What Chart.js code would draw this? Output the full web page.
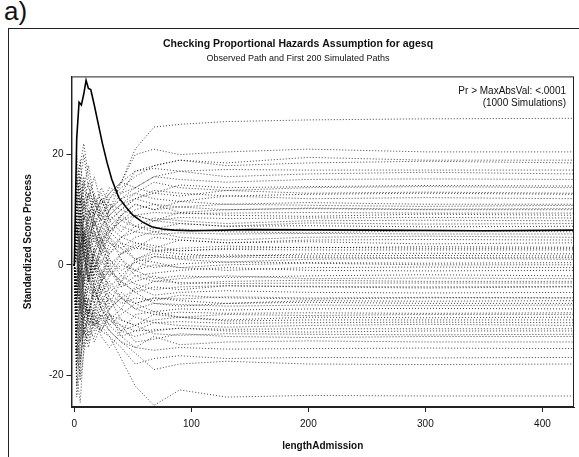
<!DOCTYPE html>
<html>
<head>
<meta charset="utf-8">
<script src="https://cdn.jsdelivr.net/npm/chart.js@4.4.1/dist/chart.umd.min.js"></script>
<style>
  html, body { margin: 0; padding: 0; background: #fff; }
  body { width: 579px; height: 457px; position: relative; overflow: hidden; font-family: "Liberation Sans", Arial, sans-serif; }
  #tag { position: absolute; left: 4px; top: -4px; font-size: 26px; color: #111; }
  #frame { position: absolute; left: 8px; top: 28px; width: 571px; height: 429px; border-top: 1px solid #222; border-left: 1px solid #222; }
  #wrap { position: absolute; left: 0; top: 0; width: 579px; height: 457px; }
</style>
</head>
<body>
<div id="tag">a)</div>
<div id="frame"></div>
<div id="wrap"><canvas id="hazardChart"></canvas></div>
<script>
// observed score process
const obsX = [0, 1, 2, 4, 6, 8, 10, 12, 14, 17, 20, 24, 28, 32, 38, 44, 50, 58, 66, 75, 85, 100, 150, 250, 350, 427];
const obsY = [0, 12, 23, 29.5, 29, 31, 33.5, 32, 31.8, 29, 26, 22, 18.5, 15.5, 12.2, 10.5, 9, 7.8, 6.9, 6.5, 6.3, 6.2, 6.4, 6.3, 6.2, 6.3];

// simulated paths, all sampled at the same lengthAdmission values
const simX = [0, 2, 5, 8, 12, 17, 23, 30, 40, 52, 68, 90, 130, 200, 300, 427];
const simPaths = [
  [0, 4, 8, 3, 6, 10, 8, 12, 15, 21, 25, 25.5, 26, 26.3, 26.5, 26.6],
  [0, -3, 2, 6, 4, 9, 12, 10, 15, 20, 21, 20, 20.5, 21, 20.5, 20.5],
  [0, 5, 12, 8, 10, 7, 11, 14, 13, 17, 18, 19, 18.5, 19.5, 19, 19],
  [0, 8, 15, 20, 14, 11, 9, 12, 14, 16, 18, 19, 18, 18.5, 18.8, 18.5],
  [0, 9, 3, 8, 12, 16, 11, 13, 15, 17, 17.5, 17, 17.3, 17.2, 17.2, 17.2],
  [0, 3, -2, 5, 9, 12, 10, 13, 15, 14, 16, 17, 16, 16.5, 16.8, 16.5],
  [0, -1, 6, 11, 15, 9, 6, 10, 13, 14, 16, 15.5, 15, 15.5, 15.6, 15.5],
  [0, 16, 11, 15, 9, 4, 7, 10, 12, 14, 13, 14.5, 14, 14.2, 14.4, 14.3],
  [0, 10, 18, 22, 16, 12, 8, 10, 12, 13, 15, 14, 13.5, 14, 14.2, 14],
  [0, -4, 3, 9, 7, 5, 9, 11, 10, 12, 13, 12.5, 13.5, 13, 13.2, 13],
  [0, 3, 9, 14, 18, 12, 7, 9, 11, 12, 13.5, 13, 12.5, 12.8, 13, 12.8],
  [0, 6, 10, 4, 8, 11, 13, 9, 11, 13, 12, 11.5, 12.5, 12, 12.2, 12],
  [0, -6, -2, 4, 10, 6, 3, 7, 9, 11, 10, 11.5, 11, 11.3, 11, 11],
  [0, -5, 1, 7, 3, 9, 12, 8, 10, 12, 11, 10.5, 11, 10.8, 10.6, 10.8],
  [0, 11, 4, -3, 2, 7, 10, 6, 9, 11, 10, 10.5, 10, 10.3, 10.1, 10.2],
  [0, 12, 6, 2, 8, 13, 9, 6, 8, 10, 11, 9.5, 10, 10.2, 10, 10],
  [0, 12, 16, 10, 13, 9, 12, 8, 10, 9, 9.5, 9.3, 9.4, 9.5, 9.4, 9.4],
  [0, 2, 7, 12, 5, -1, 4, 8, 6, 9, 8, 9.5, 9, 8.8, 9.2, 9],
  [0, -3, 4, 1, 6, 10, 14, 11, 8, 9, 8, 8.6, 8.4, 8.5, 8.6, 8.5],
  [0, -9, -4, 2, -3, 3, 7, 5, 9, 7, 8.5, 8, 7.5, 8, 8.1, 8],
  [0, 7, 3, -2, 4, 8, 5, 9, 7, 6, 8, 7.5, 7, 7.6, 7.4, 7.5],
  [0, 20, 14, 9, 5, 8, 4, 6, 8, 7, 6.5, 7.5, 7, 7.1, 6.9, 7],
  [0, -2, 5, 9, 13, 8, 4, 2, 5, 7, 6, 6.5, 6, 5.8, 6.2, 6],
  [0, 2, -5, -10, -6, -1, 4, 7, 5, 6, 5.5, 5.8, 5.6, 5.7, 5.6, 5.6],
  [0, 15, 9, 4, 0, 3, 6, 4, 3, 5, 6, 5, 4.5, 5, 5.2, 5],
  [0, -16, -9, -3, 1, 5, 2, 6, 4, 3, 5, 4.5, 4, 4.5, 4.6, 4.5],
  [0, -7, -12, -6, -1, 2, -2, 3, 5, 4, 3, 4.5, 4, 4.2, 3.8, 4],
  [0, -8, -14, -7, -2, 3, 0, 4, 2, 3.5, 2.5, 3, 3.4, 3.1, 3.3, 3.2],
  [0, 5, 1, -4, 2, 6, 3, 0, 2, 4, 3.5, 2.5, 3, 3.2, 3, 3],
  [0, -12, -7, -1, 3, -1, 2, -1, 2, 3, 2.7, 2.6, 2.8, 2.7, 2.7, 2.7],
  [0, -3, -8, -2, 4, 1, -3, 2, 4, 1, 2.5, 2, 1.5, 2, 2.1, 2],
  [0, 5, 10, 16, 11, 6, 2, 5, 3, 1, 2, 1.5, 1.8, 1.6, 1.7, 1.6],
  [0, 1, 6, 2, -3, 1, -2, 1, -1, 0.5, 1.5, 1.2, 1.4, 1.3, 1.3, 1.3],
  [0, 9, 14, 7, 2, -2, 3, 5, 1, -1, 1.5, 1, 0.5, 1, 1.2, 1],
  [0, 14, 19, 12, 7, 2, 5, 1, -2, 0.5, -0.5, 0.2, 0.5, 0.4, 0.3, 0.4],
  [0, -11, -5, 1, -3, 2, 5, -1, -3, 1, 0.5, -0.5, 0, 0.3, 0, 0],
  [0, 7, 2, -5, -9, -3, 1, -2, 0, -1, 0, -0.5, -1, -0.5, -0.4, -0.5],
  [0, 4, -3, -8, -4, 0, -5, -2, 1, -2, -1.5, -1, -0.5, -1, -1.1, -1],
  [0, -5, 2, 6, 1, -4, -1, -5, -3, -1, -2.5, -2, -2.3, -2, -1.8, -2],
  [0, 13, 7, 1, 5, 0, -3, -1, -4, -2, -3, -2.5, -2, -2.5, -2.4, -2.5],
  [0, 18, 10, 3, -2, -6, -3, 0, -4, -3, -2, -3.5, -3, -2.8, -3, -3],
  [0, 6, -1, -6, -10, -14, -11, -8, -6, -4.5, -3, -3.2, -3.4, -3.3, -3.3, -3.3],
  [0, 8, 1, -6, -3, 2, -1, -4, -2, -3.5, -4.5, -4, -3.8, -3.9, -4, -3.9],
  [0, -14, -20, -10, -6, -9, -4, -7, -3, -5, -4, -4.5, -3.8, -4, -4.2, -4],
  [0, 2, -4, -9, -13, -7, -3, -6, -8, -4, -5.5, -5, -4.7, -5, -5.1, -5],
  [0, -13, -6, -11, -15, -10, -6, -8, -5, -7, -6, -6.2, -5.8, -6, -5.9, -6],
  [0, -8, -3, 3, -2, -7, -10, -5, -7, -6, -6.5, -5.5, -6, -6.2, -6, -6],
  [0, -2, -7, -13, -9, -5, -7, -4, -6, -7, -6, -6.5, -7, -6.5, -6.6, -6.5],
  [0, 6, 12, 5, -1, -5, -2, -8, -6, -8, -7, -7.5, -7, -6.8, -7, -7],
  [0, -19, -13, -8, -4, -7, -3, -1, -3, -5, -7, -7.2, -7.5, -7.3, -7.4, -7.3],
  [0, -18, -12, -6, -10, -4, -8, -11, -9, -7, -8.5, -8, -8.2, -8, -7.9, -8],
  [0, -4, -9, -4, 0, -2, -5, -3, -6, -8, -9, -8.6, -8.8, -8.7, -8.8, -8.7],
  [0, -4, -10, -15, -8, -11, -7, -10, -12, -9, -8.5, -9.5, -9, -9.2, -9, -9],
  [0, -20, -25, -15, -11, -8, -12, -9, -10, -11, -9, -9.5, -10, -9.5, -9.6, -9.5],
  [0, 3, -6, -2, -9, -12, -8, -6, -10, -11, -10, -9.5, -10.2, -10, -10, -10],
  [0, 4, 9, 5, 1, -4, -8, -10, -8, -9.5, -10.5, -10.3, -10.6, -10.5, -10.4, -10.5],
  [0, -22, -15, -9, -6, -10, -12, -9, -11, -12, -10.5, -11, -11.3, -11, -10.8, -11],
  [0, -15, -21, -16, -12, -13, -9, -11, -13, -12, -11.8, -11.5, -11.7, -11.6, -11.6, -11.6],
  [0, -6, -1, -7, -11, -8, -5, -9, -12, -13, -12, -11.5, -12, -12.2, -12, -12],
  [0, -10, -17, -12, -14, -9, -13, -15, -12, -11, -12.5, -12.8, -12.5, -12.6, -12.7, -12.6],
  [0, 1, -7, -12, -9, -4, -8, -10, -11, -14, -13.5, -12.5, -13, -13.2, -13, -13],
  [0, -12, -18, -10, -7, -11, -9, -12, -14, -15, -13, -14.5, -14, -13.8, -14, -14],
  [0, -7, 0, 5, 2, -3, -6, -9, -13, -15, -15.5, -15, -15.3, -15.2, -15.1, -15.2],
  [0, -9, -14, -11, -8, -10, -11, -13, -15, -18, -17, -16.5, -17, -16.8, -16.9, -16.8],
  [0, -16, -10, -6, -9, -11, -10, -12, -14, -16, -19, -18, -17.5, -18, -18.1, -18],
  [0, -24, -18, -12, -10, -11, -12, -13, -17, -22, -25.5, -22.7, -24, -23.7, -23.8, -23.8]
];

const xTicks = [0, 100, 200, 300, 400];
const yTicks = [-20, 0, 20];

const FONT = "'Liberation Sans', Arial, sans-serif";

const datasets = [{
  label: 'Observed',
  data: obsX.map((x, i) => ({ x: x, y: obsY[i] })),
  borderColor: '#000',
  borderWidth: 1.6,
  pointRadius: 0,
  tension: 0,
  order: 0
}];
simPaths.forEach((path, k) => {
  datasets.push({
    label: 'Sim ' + (k + 1),
    data: simX.map((x, i) => ({ x: x, y: path[i] })),
    borderColor: 'rgba(0,0,0,0.75)',
    borderWidth: 1,
    borderDash: [1, 2],
    pointRadius: 0,
    tension: 0,
    order: 1
  });
});

// box round the plot and the p-value note
const framePlugin = {
  id: 'framePlugin',
  afterDatasetsDraw(chart) {
    const { ctx, chartArea: a } = chart;
    ctx.save();
    ctx.strokeStyle = '#222';
    ctx.lineWidth = 1;
    ctx.strokeRect(a.left + 0.5, a.top + 0.5, a.right - a.left - 1, a.bottom - a.top - 1);
    ctx.fillStyle = '#111';
    ctx.font = "10px " + FONT;
    ctx.textAlign = 'right';
    ctx.textBaseline = 'middle';
    ctx.fillText('Pr > MaxAbsVal: <.0001', a.right - 8, 91);
    ctx.fillText('(1000 Simulations)', a.right - 8, 103);
    ctx.restore();
  }
};

new Chart(document.getElementById('hazardChart'), {
  type: 'line',
  data: { datasets: datasets },
  plugins: [framePlugin],
  options: {
    responsive: true,
    maintainAspectRatio: false,
    animation: false,
    layout: { padding: { left: 22, right: 5, top: 38, bottom: 5 } },
    plugins: {
      legend: { display: false },
      tooltip: { enabled: false },
      title: {
        display: true,
        text: 'Checking Proportional Hazards Assumption for agesq',
        color: '#111',
        font: { family: FONT, size: 10.5, weight: 'bold' },
        padding: { top: 0, bottom: 3 }
      },
      subtitle: {
        display: true,
        text: 'Observed Path and First 200 Simulated Paths',
        color: '#111',
        font: { family: FONT, size: 9 },
        padding: { top: 0, bottom: 12 }
      }
    },
    scales: {
      x: {
        type: 'linear',
        min: -2.5,
        max: 427,
        afterBuildTicks: axis => { axis.ticks = xTicks.map(v => ({ value: v })); },
        ticks: { color: '#111', font: { family: FONT, size: 10 }, padding: 6 },
        grid: { display: true, drawOnChartArea: false, drawTicks: true, tickLength: 5, color: '#222' },
        border: { display: true, color: '#222' },
        title: {
          display: true,
          text: 'lengthAdmission',
          color: '#111',
          font: { family: FONT, size: 10, weight: 'bold' },
          padding: { top: 4, bottom: 0 }
        }
      },
      y: {
        type: 'linear',
        min: -25.8,
        max: 34.2,
        afterBuildTicks: axis => { axis.ticks = yTicks.map(v => ({ value: v })); },
        ticks: { color: '#111', font: { family: FONT, size: 10 }, padding: 3 },
        grid: { display: true, drawOnChartArea: false, drawTicks: true, tickLength: 5, color: '#222' },
        border: { display: true, color: '#222' },
        title: {
          display: true,
          text: 'Standardized Score Process',
          color: '#111',
          font: { family: FONT, size: 10, weight: 'bold' },
          padding: { top: 0, bottom: 12 }
        }
      }
    }
  }
});
</script>
</body>
</html>
